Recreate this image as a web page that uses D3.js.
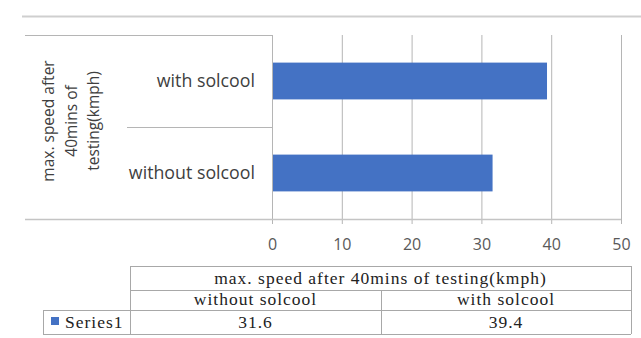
<!DOCTYPE html>
<html><head><meta charset="utf-8">
<script src="https://cdn.jsdelivr.net/npm/d3@7"></script>
<style>body{margin:0;background:#fff}svg{display:block}</style>
</head><body>
<script>
const categories = ["without solcool", "with solcool"];
const values = [31.6, 39.4];
const seriesName = "Series1";
const axisTitle = ["max. speed after", "40mins of", "testing(kmph)"];
const tableTitle = "max. speed after 40mins of testing(kmph)";
const ticks = [0, 10, 20, 30, 40, 50];

const W = 641, H = 338;
const svg = d3.select("body").append("svg").attr("width", W).attr("height", H);
const sans = "'Open Sans', Lato, sans-serif";
const serif = "'Liberation Serif', 'Times New Roman', serif";
const blue = "#4472c4";

// top frame line
svg.append("line").attr("x1", 22).attr("x2", W).attr("y1", 16.5).attr("y2", 16.5)
  .attr("stroke", "#cfcfcf").attr("stroke-width", 2);

const x = d3.scaleLinear().domain([0, 50]).range([272, 621]);
const y = d3.scaleBand().domain(categories.slice().reverse()).range([35, 219]).paddingInner(0.6).paddingOuter(0.3);

// gridlines
svg.append("g").selectAll("line").data(ticks).join("line")
  .attr("x1", d => x(d) + 0.5).attr("x2", d => x(d) + 0.5)
  .attr("y1", 35).attr("y2", 224)
  .attr("stroke", "#b5b5b5").attr("stroke-width", 1);

// category box lines
svg.append("line").attr("x1", 25).attr("x2", x(0)).attr("y1", 35.5).attr("y2", 35.5).attr("stroke", "#b5b5b5");
svg.append("line").attr("x1", 25).attr("x2", x(50)).attr("y1", 219.5).attr("y2", 219.5).attr("stroke", "#c4c4c4").attr("stroke-width", 1.5);
svg.append("line").attr("x1", 127).attr("x2", x(0)).attr("y1", 127.5).attr("y2", 127.5).attr("stroke", "#b5b5b5");

// bars
svg.append("g").selectAll("rect").data(categories).join("rect")
  .attr("x", x(0) + 1)
  .attr("y", d => y(d))
  .attr("width", (d, i) => x(values[i]) - x(0) - 1)
  .attr("height", y.bandwidth())
  .attr("fill", blue);

// category labels
svg.append("g").selectAll("text").data(categories).join("text")
  .attr("x", 255).attr("y", d => y(d) + y.bandwidth() / 2)
  .attr("dy", "0.35em").attr("text-anchor", "end")
  .attr("font-family", sans).attr("font-size", 17.8).attr("fill", "#404040")
  .text(d => d);

// x tick labels
const xAxis = d3.axisBottom(x).tickValues(ticks).tickSize(0).tickPadding(0);
const gx = svg.append("g").attr("transform", "translate(0,250)").call(xAxis);
gx.select(".domain").remove();
gx.selectAll("text").attr("font-family", sans).attr("font-size", 16).attr("fill", "#595959").attr("dy", "0").attr("y", 0);

// axis title (rotated)
const title = svg.append("text").attr("transform", "translate(0,121) rotate(-90)")
  .attr("text-anchor", "middle").attr("font-family", sans).attr("font-size", 15.5).attr("fill", "#404040");
axisTitle.forEach((t, i) => {
  title.append("tspan").attr("x", 0).attr("y", 54 + i * 22.5).text(t);
});

// data table
const tx0 = 130, tx1 = 631, tmid = 381, lx0 = 43;
const rows = [266, 290, 310, 334];
const tc = "#a8a8a8";
const tg = svg.append("g").attr("stroke", tc).attr("stroke-width", 1);
rows.forEach((r, i) => tg.append("line").attr("x1", i >= 2 ? lx0 : tx0).attr("x2", tx1).attr("y1", r + 0.5).attr("y2", r + 0.5));
tg.append("line").attr("x1", tx0 + 0.5).attr("x2", tx0 + 0.5).attr("y1", rows[0]).attr("y2", rows[3]);
tg.append("line").attr("x1", tx1 + 0.5).attr("x2", tx1 + 0.5).attr("y1", rows[0]).attr("y2", rows[3]);
tg.append("line").attr("x1", lx0 + 0.5).attr("x2", lx0 + 0.5).attr("y1", rows[2]).attr("y2", rows[3]);
tg.append("line").attr("x1", tmid + 0.5).attr("x2", tmid + 0.5).attr("y1", rows[1]).attr("y2", rows[3]);

const ttxt = (tx, ty, s, anchor) => svg.append("text").attr("x", tx).attr("y", ty)
  .attr("text-anchor", anchor || "middle").attr("font-family", serif).attr("font-size", 17.5)
  .attr("letter-spacing", 1).attr("fill", "#222").text(s);
ttxt((tx0 + tx1) / 2, 284, tableTitle);
ttxt((tx0 + tmid) / 2, 305, categories[0]);
ttxt((tmid + tx1) / 2, 305, categories[1]);
ttxt((tx0 + tmid) / 2, 328, values[0]);
ttxt((tmid + tx1) / 2, 328, values[1]);
svg.append("rect").attr("x", 51).attr("y", 317).attr("width", 8).attr("height", 8).attr("fill", blue);
ttxt(65, 328, seriesName, "start");
</script>
</body></html>
